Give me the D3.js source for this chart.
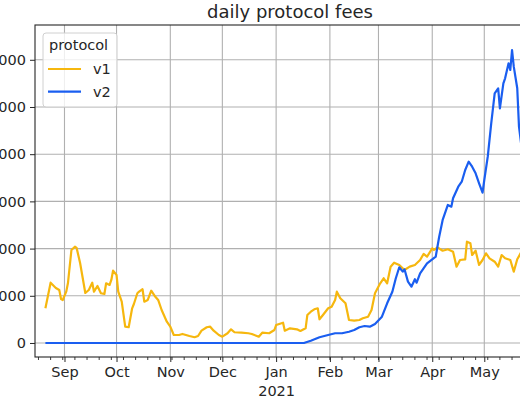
<!DOCTYPE html>
<html>
<head>
<meta charset="utf-8">
<script src="https://cdn.jsdelivr.net/npm/d3@7"></script>
<style>
  body { margin: 0; overflow: hidden; background: #fff; }
  text { font-family: "DejaVu Sans", sans-serif; fill: #262626; }
</style>
</head>
<body>
<div id="chart"></div>
<script>
// daily fees per protocol version
var v1Dates = ["2020-08-21","2020-08-24","2020-08-27","2020-08-29","2020-08-30","2020-08-31",
  "2020-09-02","2020-09-03","2020-09-05","2020-09-07","2020-09-08","2020-09-10","2020-09-13",
  "2020-09-15","2020-09-17","2020-09-18","2020-09-20","2020-09-22","2020-09-24","2020-09-25",
  "2020-09-27","2020-09-28","2020-09-29","2020-10-01","2020-10-02","2020-10-04","2020-10-06",
  "2020-10-08","2020-10-10","2020-10-11","2020-10-13","2020-10-14","2020-10-16","2020-10-17",
  "2020-10-19","2020-10-21","2020-10-23","2020-10-25","2020-10-27","2020-10-30","2020-11-01",
  "2020-11-03","2020-11-06","2020-11-08","2020-11-12","2020-11-15","2020-11-17","2020-11-19",
  "2020-11-22","2020-11-24","2020-11-26","2020-11-29","2020-12-01","2020-12-04","2020-12-06",
  "2020-12-08","2020-12-12","2020-12-16","2020-12-18","2020-12-22","2020-12-24","2020-12-28",
  "2020-12-31","2021-01-01","2021-01-05","2021-01-06","2021-01-09","2021-01-13","2021-01-15",
  "2021-01-18","2021-01-19","2021-01-21","2021-01-23","2021-01-25","2021-01-26","2021-01-28",
  "2021-01-31","2021-02-02","2021-02-04","2021-02-05","2021-02-07","2021-02-10","2021-02-12",
  "2021-02-15","2021-02-18","2021-02-20","2021-02-23","2021-02-25","2021-02-27","2021-03-02",
  "2021-03-04","2021-03-06","2021-03-08","2021-03-10","2021-03-13","2021-03-16","2021-03-19",
  "2021-03-22","2021-03-25","2021-03-27","2021-03-29","2021-04-01","2021-04-02","2021-04-04",
  "2021-04-07","2021-04-10","2021-04-13","2021-04-15","2021-04-17","2021-04-20","2021-04-21",
  "2021-04-23","2021-04-24","2021-04-26","2021-04-28","2021-04-30","2021-05-02","2021-05-04",
  "2021-05-07","2021-05-09","2021-05-11","2021-05-13","2021-05-16","2021-05-18","2021-05-20",
  "2021-05-23"];
var v1Fees = [7350,12780,11650,11230,9320,9110,
  10870,12710,19700,20400,20130,16950,10590,
  11230,12780,10870,12080,10530,10380,12650,
  12290,13350,15320,14410,10870,8750,3450,
  3330,7350,8260,10530,10870,11380,8750,
  9110,11080,9960,9110,6990,4510,3450,
  1690,1690,1910,1480,1210,1480,2610,
  3330,3450,2610,1690,1330,2060,2900,
  2270,2180,2060,1910,1330,2180,2060,
  2750,3810,4300,2610,3110,2900,2540,
  3110,5930,6630,7140,7350,5020,5930,
  7350,7690,9110,10870,9470,8410,4870,
  4720,4870,5230,5570,6990,10530,12650,
  13710,12650,16170,17010,16530,15470,16170,
  16530,17580,18860,18280,20060,19700,20270,
  19550,19850,19340,16170,17580,17730,21460,
  21120,18640,19550,16530,17580,19000,17940,
  17220,16170,18640,17940,17580,15110,17730,
  19700];

var v2Dates = ["2020-08-21","2021-01-17","2021-01-21","2021-01-26","2021-01-31","2021-02-04",
  "2021-02-08","2021-02-12","2021-02-15","2021-02-18","2021-02-21","2021-02-24","2021-02-27",
  "2021-03-03","2021-03-06","2021-03-09","2021-03-11","2021-03-13","2021-03-15","2021-03-16",
  "2021-03-18","2021-03-20","2021-03-22","2021-03-23","2021-03-25","2021-03-27","2021-03-29",
  "2021-04-01","2021-04-03","2021-04-05","2021-04-07","2021-04-10","2021-04-12","2021-04-13",
  "2021-04-16","2021-04-18","2021-04-20","2021-04-22","2021-04-24","2021-04-26","2021-04-28",
  "2021-04-30","2021-05-01","2021-05-03","2021-05-05","2021-05-07","2021-05-09","2021-05-10",
  "2021-05-12","2021-05-13","2021-05-15","2021-05-16","2021-05-17","2021-05-18","2021-05-20",
  "2021-05-21","2021-05-23"];
var v2Fees = [0,0,490,1210,1690,2060,
  2060,2390,2750,3330,3600,3450,4030,
  5570,8410,10870,13710,16040,15110,15610,
  12990,11930,13500,12780,14770,15830,16890,
  17730,18280,22520,26060,29240,28880,30660,
  33110,34170,36650,38410,37350,35950,33830,
  31840,34530,39470,46550,52900,53960,49720,
  55020,56080,59260,57840,62070,58540,53960,
  45830,40000];

var protocols = ["v1", "v2"];
var protocolColors = ["#f6b70e", "#1a5ef0"];
var yTickValues = [0, 10000, 20000, 30000, 40000, 50000, 60000];
var xStart = "2020-08-15";
var xEnd = "2021-06-05";

var parseDate = d3.timeParse("%Y-%m-%d");

var svgWidth = 520;
var svgHeight = 400;
var plot = { left: 35, right: 545, top: 25, bottom: 357 };

var svg = d3.select("#chart")
  .append("svg")
  .attr("width", svgWidth)
  .attr("height", svgHeight);

// scales
var xScale = d3.scaleTime()
  .domain([parseDate(xStart), parseDate(xEnd)])
  .range([plot.left, plot.right]);

var yScale = d3.scaleLinear()
  .domain([-2970, 67370])
  .range([plot.bottom, plot.top]);

// grid lines
var majorDates = d3.timeMonth.range(xScale.domain()[0], xScale.domain()[1]);
var minorDates = d3.timeMonday.range(xScale.domain()[0], xScale.domain()[1]);
// only the months that fall inside the window get a label
var labelDates = majorDates.filter(d => xScale(d) < svgWidth - 15);

svg.append("g")
  .selectAll("line")
  .data(majorDates)
  .enter()
  .append("line")
  .attr("x1", d => xScale(d))
  .attr("x2", d => xScale(d))
  .attr("y1", plot.top)
  .attr("y2", plot.bottom)
  .attr("stroke", "#b0b0b0")
  .attr("stroke-width", 1.1);

svg.append("g")
  .selectAll("line")
  .data(yTickValues)
  .enter()
  .append("line")
  .attr("x1", plot.left)
  .attr("x2", plot.right)
  .attr("y1", d => yScale(d))
  .attr("y2", d => yScale(d))
  .attr("stroke", "#b0b0b0")
  .attr("stroke-width", 1.1);

// lines
var series = [
  { name: protocols[0], dates: v1Dates, fees: v1Fees, color: protocolColors[0] },
  { name: protocols[1], dates: v2Dates, fees: v2Fees, color: protocolColors[1] }
];

var line = d3.line()
  .x(d => xScale(d.date))
  .y(d => yScale(d.fee));

series.forEach(function (s) {
  var points = s.dates.map(function (d, i) {
    return { date: parseDate(d), fee: s.fees[i] };
  });
  svg.append("path")
    .datum(points)
    .attr("d", line)
    .attr("fill", "none")
    .attr("stroke", s.color)
    .attr("stroke-width", 2.2)
    .attr("stroke-linejoin", "round");
});

// axes
var bottomAxis = d3.axisBottom(xScale)
  .tickValues(labelDates)
  .tickSize(5)
  .tickPadding(4)
  .tickFormat(d3.timeFormat("%b"));

var xAxis = svg.append("g")
  .attr("transform", `translate(0, ${plot.bottom})`)
  .call(bottomAxis);

xAxis.selectAll(".tick text")
  .style("font-size", "14.5px")
  .attr("dy", "0.75em")
  .attr("y", 9);

// year under January
xAxis.selectAll(".tick")
  .filter(d => d.getMonth() === 0)
  .append("text")
  .attr("y", 28)
  .attr("dy", "0.75em")
  .attr("text-anchor", "middle")
  .attr("fill", "#262626")
  .style("font-size", "14.5px")
  .text(d => d.getFullYear());

svg.append("g")
  .attr("transform", `translate(0, ${plot.bottom})`)
  .selectAll("line")
  .data(minorDates)
  .enter()
  .append("line")
  .attr("x1", d => xScale(d))
  .attr("x2", d => xScale(d))
  .attr("y1", 0)
  .attr("y2", 3)
  .attr("stroke", "#262626")
  .attr("stroke-width", 0.9);

var leftAxis = d3.axisLeft(yScale)
  .tickValues(yTickValues)
  .tickSize(5)
  .tickPadding(4)
  .tickFormat(d3.format("d"));

var yAxis = svg.append("g")
  .attr("transform", `translate(${plot.left}, 0)`)
  .call(leftAxis);

yAxis.selectAll(".tick text").style("font-size", "14.5px");

[xAxis, yAxis].forEach(function (a) {
  a.select(".domain").remove();
  a.selectAll(".tick line").attr("stroke", "#262626").attr("stroke-width", 1);
});

// frame
svg.append("rect")
  .attr("x", plot.left)
  .attr("y", plot.top)
  .attr("width", plot.right - plot.left)
  .attr("height", plot.bottom - plot.top)
  .attr("fill", "none")
  .attr("stroke", "#262626")
  .attr("stroke-width", 1.1);

// title
svg.append("text")
  .attr("x", (plot.left + plot.right) / 2)
  .attr("y", 17.5)
  .attr("text-anchor", "middle")
  .style("font-size", "18px")
  .text("daily protocol fees");

// legend
var legend = svg.append("g")
  .attr("transform", "translate(43, 33)");

legend.append("rect")
  .attr("width", 74)
  .attr("height", 74)
  .attr("rx", 3)
  .attr("fill", "#fff")
  .attr("fill-opacity", 0.8)
  .attr("stroke", "#d0d0d0");

legend.append("text")
  .attr("x", 6)
  .attr("y", 17)
  .style("font-size", "14.5px")
  .text("protocol");

series.forEach(function (s, i) {
  var y = 36 + i * 22.7;
  legend.append("line")
    .attr("x1", 5)
    .attr("x2", 38)
    .attr("y1", y)
    .attr("y2", y)
    .attr("stroke", s.color)
    .attr("stroke-width", 2.2);
  legend.append("text")
    .attr("x", 50)
    .attr("y", y + 5)
    .style("font-size", "14.5px")
    .text(s.name);
});
</script>
</body>
</html>
